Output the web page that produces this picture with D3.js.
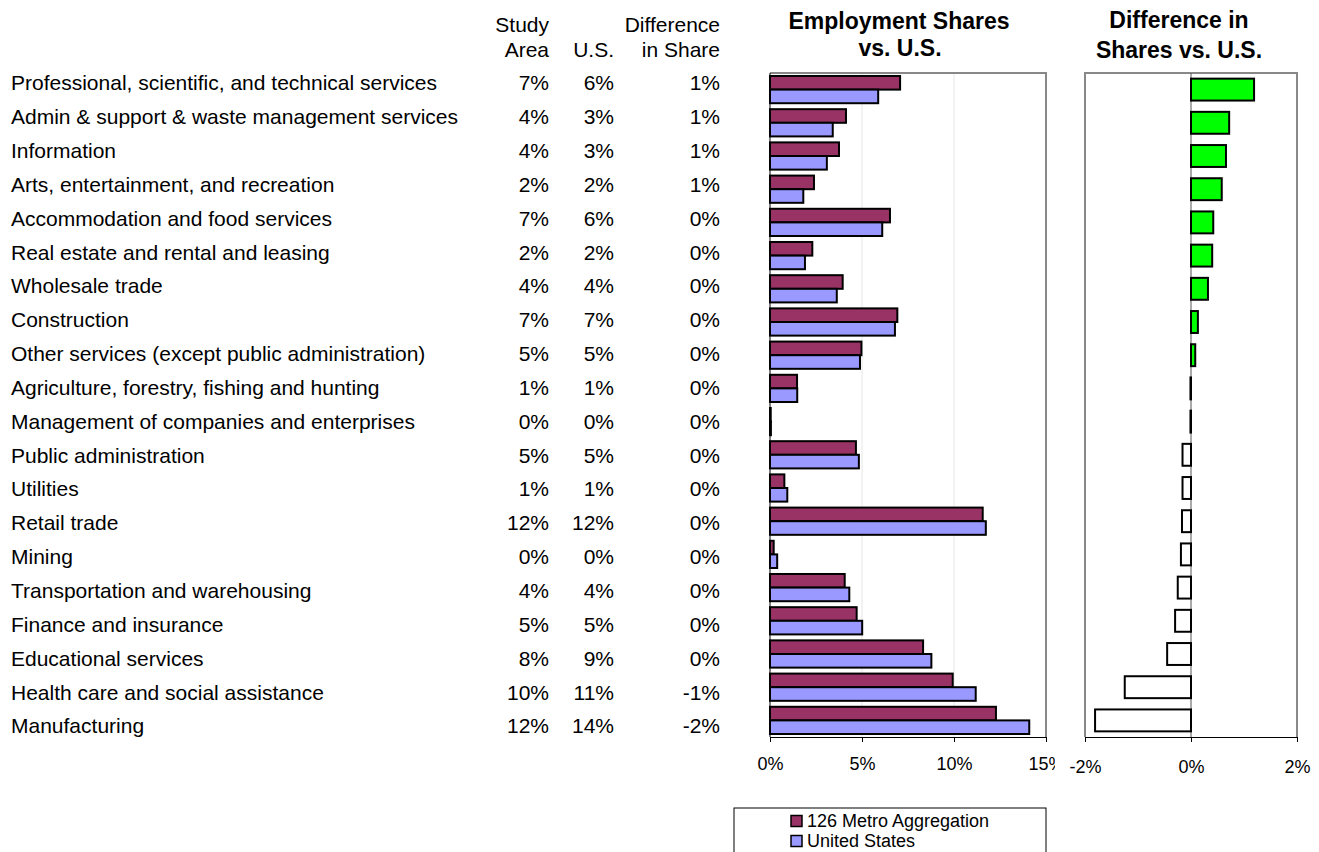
<!DOCTYPE html>
<html>
<head>
<meta charset="utf-8">
<script src="https://cdn.jsdelivr.net/npm/d3@7"></script>
<style>
  html, body { margin: 0; padding: 0; background: #fff; }
  svg { display: block; font-family: "Liberation Sans", Arial, sans-serif; }
</style>
</head>
<body>
<svg id="chart" width="1319" height="852"></svg>
<script>
// Industry categories, sorted by difference in share
const categories = [
  "Professional, scientific, and technical services",
  "Admin & support & waste management services",
  "Information",
  "Arts, entertainment, and recreation",
  "Accommodation and food services",
  "Real estate and rental and leasing",
  "Wholesale trade",
  "Construction",
  "Other services (except public administration)",
  "Agriculture, forestry, fishing and hunting",
  "Management of companies and enterprises",
  "Public administration",
  "Utilities",
  "Retail trade",
  "Mining",
  "Transportation and warehousing",
  "Finance and insurance",
  "Educational services",
  "Health care and social assistance",
  "Manufacturing"
];

// Employment shares (%)
const studyArea = [7.07, 4.13, 3.75, 2.39, 6.52, 2.30, 3.95, 6.92, 4.97, 1.47,
                   0.04, 4.67, 0.78, 11.56, 0.20, 4.06, 4.71, 8.32, 9.93, 12.28];
const unitedStates = [5.88, 3.41, 3.09, 1.81, 6.10, 1.90, 3.63, 6.79, 4.89, 1.48,
                      0.05, 4.83, 0.94, 11.73, 0.39, 4.31, 5.01, 8.77, 11.18, 14.09];

const seriesNames = ["126 Metro Aggregation", "United States"];
const seriesColors = ["#993366", "#9999FF"];
const shareTicks = [0, 5, 10, 15];
const diffTicks = [-2, 0, 2];

const differences = studyArea.map((v, i) => +(v - unitedStates[i]).toFixed(2));
const pct = v => { const r = Math.round(v); return (r === 0 ? 0 : r) + "%"; };

const svg = d3.select("#chart");
const FONT = 21;
const TITLE_FONT = 23;
const AXIS_FONT = 18;

// ---- Table on the left ----
const rowY = d3.scalePoint().domain(categories).range([83, 726]);
const table = svg.append("g").attr("font-size", FONT).attr("fill", "#000");

table.selectAll("text.cat").data(categories).join("text")
  .attr("class", "cat").attr("x", 11).attr("y", d => rowY(d)).attr("dy", "0.35em")
  .text(d => d);

const cols = [
  { x: 549, head: ["Study", "Area"], vals: studyArea },
  { x: 614, head: ["", "U.S."], vals: unitedStates },
  { x: 720, head: ["Difference", "in Share"], vals: differences }
];
cols.forEach(c => {
  c.head.forEach((h, j) => {
    table.append("text").attr("x", c.x).attr("y", 25 + j * 25).attr("dy", "0.35em")
      .attr("text-anchor", "end").text(h);
  });
  table.selectAll(null).data(c.vals).join("text")
    .attr("x", c.x).attr("y", (d, i) => rowY(categories[i])).attr("dy", "0.35em")
    .attr("text-anchor", "end").text(d => pct(d));
});

// ---- Employment shares chart ----
const plotTop = 73, plotBottom = 737;
const x1 = d3.scaleLinear().domain([0, 15]).range([770, 1046]);
const y1 = d3.scaleBand().domain(categories).range([plotTop, plotBottom]);
const groupH = y1.bandwidth() * 0.82;
const subH = groupH / 2;

const g1 = svg.append("g");
g1.append("text").attr("x", 899).attr("y", 21).attr("dy", "0.35em").attr("text-anchor", "middle")
  .attr("font-size", TITLE_FONT).attr("font-weight", "bold").text("Employment Shares");
g1.append("text").attr("x", 900).attr("y", 48).attr("dy", "0.35em").attr("text-anchor", "middle")
  .attr("font-size", TITLE_FONT).attr("font-weight", "bold").text("vs. U.S.");

// gridlines
g1.selectAll("line.grid").data(shareTicks.filter(t => t > 0 && t < 15)).join("line")
  .attr("x1", d => x1(d)).attr("x2", d => x1(d)).attr("y1", plotTop).attr("y2", plotBottom)
  .attr("stroke", "#e6e6e6").attr("stroke-width", 1);

// plot frame (top and right)
g1.append("path").attr("d", `M${x1(0)},${plotTop}H${x1(15)}V${plotBottom}`)
  .attr("fill", "none").attr("stroke", "#888").attr("stroke-width", 2);

const series = [studyArea, unitedStates];
series.forEach((vals, s) => {
  g1.selectAll(null).data(vals).join("rect")
    .attr("x", x1(0))
    .attr("y", (d, i) => y1(categories[i]) + (y1.bandwidth() - groupH) / 2 + s * subH)
    .attr("width", d => x1(d) - x1(0))
    .attr("height", subH)
    .attr("fill", seriesColors[s])
    .attr("stroke", "#000").attr("stroke-width", 2);
});

// axes
const ax1 = g1.append("g").attr("transform", `translate(0,${plotBottom})`)
  .call(d3.axisBottom(x1).tickValues(shareTicks).tickSize(5).tickPadding(15).tickFormat(d => d + "%"));
ax1.select(".domain").attr("stroke", "#000");
ax1.selectAll("text").attr("font-size", AXIS_FONT).attr("fill", "#000")
  .attr("font-family", "\"Liberation Sans\", Arial, sans-serif");
svg.append("clipPath").attr("id", "clipAx").append("rect").attr("x", 0).attr("y", 0).attr("width", 1055).attr("height", 852);
ax1.attr("clip-path", "url(#clipAx)");
g1.append("line").attr("x1", x1(0)).attr("x2", x1(0)).attr("y1", plotTop).attr("y2", plotBottom)
  .attr("stroke", "#000").attr("stroke-width", 1);

// ---- Difference chart ----
const x2 = d3.scaleLinear().domain([-2, 2]).range([1085, 1297]);
const g2 = svg.append("g");
g2.append("text").attr("x", 1179).attr("y", 20).attr("dy", "0.35em").attr("text-anchor", "middle")
  .attr("font-size", TITLE_FONT).attr("font-weight", "bold").text("Difference in");
g2.append("text").attr("x", 1179).attr("y", 50).attr("dy", "0.35em").attr("text-anchor", "middle")
  .attr("font-size", TITLE_FONT).attr("font-weight", "bold").text("Shares vs. U.S.");

g2.append("path").attr("d", `M${x2(-2)},${plotBottom}V${plotTop}H${x2(2)}V${plotBottom}`)
  .attr("fill", "none").attr("stroke", "#888").attr("stroke-width", 2);
g2.append("line").attr("x1", x2(0)).attr("x2", x2(0)).attr("y1", plotTop).attr("y2", plotBottom)
  .attr("stroke", "#555").attr("stroke-width", 1);

const diffH = y1.bandwidth() * 0.66;
g2.selectAll(null).data(differences).join("rect")
  .attr("x", d => Math.min(x2(d), x2(0)))
  .attr("y", (d, i) => y1(categories[i]) + (y1.bandwidth() - diffH) / 2)
  .attr("width", d => Math.abs(x2(d) - x2(0)))
  .attr("height", diffH)
  .attr("fill", d => d > 0 ? "#00FF00" : "#fff")
  .attr("stroke", "#000").attr("stroke-width", 2);

const ax2 = g2.append("g").attr("transform", `translate(0,${plotBottom})`)
  .call(d3.axisBottom(x2).tickValues(diffTicks).tickSize(5).tickPadding(18).tickFormat(d => d + "%"));
ax2.select(".domain").attr("stroke", "#000");
ax2.selectAll("text").attr("font-size", AXIS_FONT).attr("fill", "#000")
  .attr("font-family", "\"Liberation Sans\", Arial, sans-serif");

// ---- Legend ----
const lg = svg.append("g");
lg.append("rect").attr("x", 734).attr("y", 808).attr("width", 312).attr("height", 60)
  .attr("fill", "#fff").attr("stroke", "#000").attr("stroke-width", 1);
seriesNames.forEach((name, i) => {
  const cy = 821 + i * 20;
  lg.append("rect").attr("x", 791).attr("y", cy - 5.5).attr("width", 11).attr("height", 11)
    .attr("fill", seriesColors[i]).attr("stroke", "#000").attr("stroke-width", 1.5);
  lg.append("text").attr("x", 807).attr("y", cy).attr("dy", "0.35em")
    .attr("font-size", AXIS_FONT).text(name);
});
</script>
</body>
</html>
